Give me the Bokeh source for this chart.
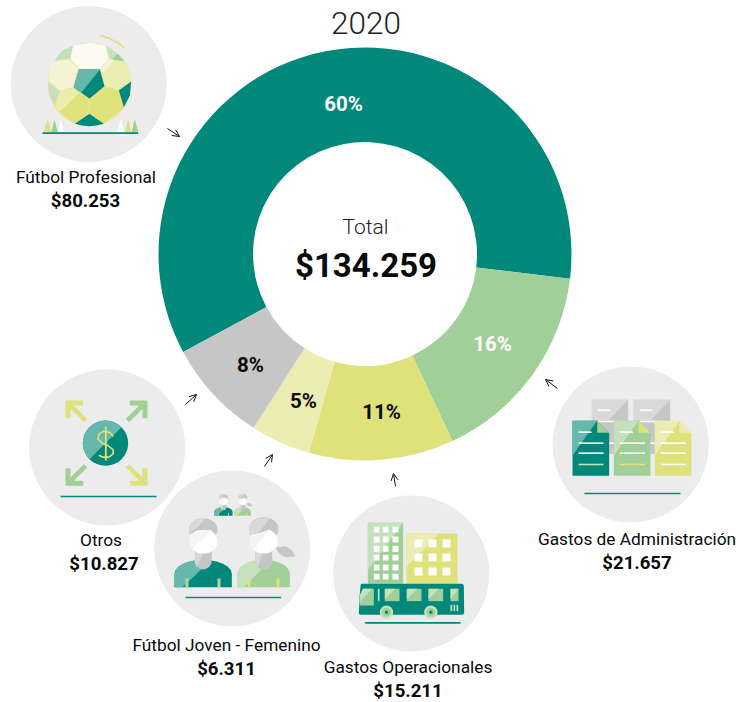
from math import pi, cos, sin
from bokeh.plotting import figure
from bokeh.models import Range1d, Arrow, OpenHead
from bokeh.core.properties import value
from bokeh.embed import file_html
from bokeh.resources import INLINE

# ---------- data ----------
title = "2020"
total_name = "Total"
total_label = "$134.259"
categories = ["Fútbol Profesional", "Gastos de Administración", "Gastos Operacionales",
              "Fútbol Joven - Femenino", "Otros"]
values = [80253, 21657, 15211, 6311, 10827]
amount_labels = ["$80.253", "$21.657", "$15.211", "$6.311", "$10.827"]
pct_labels = ["60%", "16%", "11%", "5%", "8%"]

TEAL, GREEN, YELLOW, PALE, GRAY = "#00897b", "#a0cf98", "#dfe27a", "#ebedb3", "#c6c6c6"
LTEAL, LGREEN, LGRAY, DISC = "#66b8ac", "#c5e0bd", "#d9d9d9", "#ececec"
slice_colors = [TEAL, GREEN, YELLOW, PALE, GRAY]
pct_colors = ["white", "white", "#0a0a0a", "#0a0a0a", "#0a0a0a"]

W, H = 736, 702
p = figure(width=W, height=H, output_backend="svg", toolbar_location=None,
           x_range=Range1d(0, W), y_range=Range1d(0, H), min_border=0,
           border_fill_color="white", background_fill_color="white")
p.axis.visible = False
p.grid.visible = False
p.outline_line_color = None

def T(ox, oy, s=1/3):
    return (ox, oy, s)
def px(t, x, y):
    return t[0] + x * t[2], H - (t[1] + y * t[2])
def poly(t, pts, color):
    c = [px(t, *q) for q in pts]
    p.patch([a for a, _ in c], [b for _, b in c], fill_color=color, line_color=None)
def rect(t, x0, y0, x1, y1, color):
    poly(t, [(x0, y0), (x1, y0), (x1, y1), (x0, y1)], color)
def line(t, pts, color, w=1.5):
    c = [px(t, *q) for q in pts]
    p.line([a for a, _ in c], [b for _, b in c], line_color=color, line_width=w)
def ell(t, x, y, rx, ry, color):
    a, b = px(t, x, y)
    p.ellipse([a], [b], width=2 * rx * t[2], height=2 * ry * t[2], fill_color=color, line_color=None)

# ---------- discs ----------
for x, y in [(88.5, 83.5), (107, 447), (232, 548), (411, 573), (630.5, 444)]:
    p.ellipse([x - 0.3], [H - y], width=156, height=156, fill_color=DISC, line_color=None)

# ---------- donut ----------
CX, CY, R_OUT, R_IN = 364.5, H - 253.5, 206.5, 112
START = 208.3 * pi / 180
tot = sum(values)
a = START
starts, ends = [], []
for v in values:
    b = a - v / tot * 2 * pi
    starts.append(a); ends.append(b)
    a = b
p.annular_wedge([CX] * 5, [CY] * 5, R_IN, R_OUT, starts, ends, direction="clock",
                fill_color=slice_colors, line_color=None)
pct_xy = [(343, 103.5), (492, 343.5), (381, 411.5), (303, 400.5), (250, 364.5)]
for (x, y), lab, col in zip(pct_xy, pct_labels, pct_colors):
    p.text([x], [H - y], text=[lab], text_color=col, text_font=value("Roboto"), text_font_style="bold",
           text_font_size="20.5px", text_align="center", text_baseline="middle")

def label(x, y, s, size, bold=False, font="Roboto", color="#0a0a0a"):
    p.text([x], [H - y], text=[s], text_color=color, text_font=value(font),
           text_font_style="bold" if bold else "normal",
           text_font_size=f"{size}px", text_align="center", text_baseline="middle")

label(365.5, 22, title, 31.5, font="Roboto Light", color="#222222")
label(365, 226, total_name, 21, font="Roboto Light", color="#222222")
label(365.5, 265, total_label, 33, bold=True)

name_xy = [(85.5, 176), (636.5, 538), (407.5, 666), (226, 644), (100.5, 539)]
amt_xy = [(85, 200), (636.5, 562), (407.5, 690), (226, 668), (103.5, 563)]
for (x, y), s in zip(name_xy, categories):
    label(x, y, s, 17.3)
for (x, y), s in zip(amt_xy, amount_labels):
    label(x, y, s, 18.6, bold=True)

# ---------- pointer arrows ----------
for (x0, y0, x1, y1) in [(167, 128, 179, 136), (185, 404, 196, 394), (264, 466, 272, 454),
                         (395, 486, 393, 473), (557, 388, 545, 379)]:
    p.add_layout(Arrow(end=OpenHead(size=7, line_width=1, line_color="#111111"),
                       x_start=x0, y_start=H - y0, x_end=x1, y_end=H - y1,
                       line_width=1, line_color="#111111"))

# ---------- ball icon ----------
t = T(40, 35)
ell(t, 147, 147, 126, 126, "#f2e3c8")
ell(t, 147, 147, 125, 125, "#e8e9a0")
poly(t, [(97, 30), (150, 22), (195, 30), (205, 68), (178, 100), (115, 100), (90, 68)], "#fbfbf0")
poly(t, [(97, 31), (90, 68), (42, 75), (65, 45)], LGREEN)
poly(t, [(42, 77), (90, 72), (112, 100), (97, 155), (58, 165), (24, 135), (28, 100)], "#f4f4d4")
poly(t, [(205, 72), (250, 75), (272, 125), (270, 135), (232, 160), (193, 152), (180, 103)], "#ebedb0")
poly(t, [(205, 72), (180, 100), (188, 115), (222, 72)], "#f4f4d4")
poly(t, [(115, 102), (178, 102), (192, 152), (147, 190), (100, 155)], TEAL)
poly(t, [(115, 102), (178, 102), (122, 172), (100, 155)], LTEAL)
poly(t, [(198, 30), (225, 50), (252, 77), (207, 70)], LGREEN)
poly(t, [(215, 72), (232, 55), (252, 77)], GREEN)
poly(t, [(22, 140), (58, 167), (42, 210), (28, 180)], LGREEN)
poly(t, [(58, 167), (97, 157), (145, 190), (145, 232), (103, 265), (70, 240), (42, 212)], YELLOW)
poly(t, [(58, 167), (97, 157), (117, 172), (60, 228), (42, 212)], "#ebedac")
poly(t, [(147, 190), (192, 155), (233, 165), (250, 215), (190, 265), (147, 232)], YELLOW)
poly(t, [(235, 165), (272, 138), (268, 180), (250, 215)], TEAL)
poly(t, [(103, 265), (147, 235), (190, 265), (168, 270), (147, 272), (125, 270)], TEAL)
line(t, [(180, 0), (205, 8), (230, 20), (252, 37)], YELLOW, 1.6)
for pts, c in [([(10, 290), (22, 250), (33, 290)], YELLOW),
               ([(32, 290), (42, 252), (52, 290)], GREEN),
               ([(52, 290), (61, 252), (72, 290)], "white"),
               ([(230, 290), (241, 252), (252, 290)], "white"),
               ([(252, 290), (263, 252), (273, 290)], YELLOW),
               ([(273, 290), (283, 250), (293, 290)], GREEN)]:
    poly(t, pts, c)
line(t, [(6, 293), (293, 293)], TEAL, 1.6)

# ---------- otros icon ----------
t = T(20, 360)
def corner(mx, my, c):
    f = lambda x, y: (x if mx == 0 else mx - x, y if my == 0 else my - y)
    poly(t, [f(135, 120), f(188, 120), f(188, 135), f(160, 135), f(200, 175), f(190, 185),
             f(150, 145), f(150, 173), f(135, 173)], c)
corner(0, 0, YELLOW)
corner(516, 0, GREEN)
corner(0, 496, GREEN)
corner(516, 496, YELLOW)
ell(t, 255, 248, 68, 68, TEAL)
cx, cy = px(t, 255, 248)
p.wedge([cx], [cy], 68 / 3, [pi / 4], [pi / 4 + pi], fill_color=LTEAL, line_color=None)
line(t, [(278, 228), (268, 216), (250, 212), (236, 220), (232, 235), (245, 248), (262, 255),
         (278, 268), (278, 280), (265, 290), (248, 290), (235, 284)], YELLOW, 1.6)
line(t, [(256, 198), (256, 300)], YELLOW, 1.8)
line(t, [(120, 408), (408, 408)], TEAL, 1.6)

# ---------- joven icon ----------
def dome(x0, x1):
    c, r = (x0 + x1) / 2, (x1 - x0) / 2
    return [(x0, 230)] + [(c + r * cos(pi - k * pi / 12), 190 - 42 * sin(k * pi / 12)) for k in range(13)] + [(x1, 230)]

def man(t):
    poly(t, dome(12, 184), TEAL)
    poly(t, [q for q in dome(12, 184) if q[0] < 95 and q[1] < 231 ] + [(95, 175), (35, 230)], LTEAL)
    ell(t, 98, 150, 26, 27, GRAY)
    rect(t, 73, 115, 124, 150, GRAY)
    poly(t, [(73, 115), (105, 115), (78, 170), (73, 150)], LGRAY)
    ell(t, 98, 58, 43, 35, GRAY)
    poly(t, [(55, 58), (62, 38), (85, 25), (105, 25), (60, 72)], LGRAY)
    ell(t, 99, 92, 42, 37, "white")
    poly(t, [(57, 92), (60, 70), (100, 62), (135, 50), (62, 118)], "#f4f4f4")
    poly(t, [(55, 70), (70, 58), (110, 52), (132, 50), (141, 68), (120, 58), (80, 60)], GRAY)
    rect(t, 45, 204, 54, 230, "#b5d59a")
    rect(t, 141, 204, 150, 230, "#b5d59a")

def woman(t):
    poly(t, dome(201, 358), GREEN)
    poly(t, [q for q in dome(201, 358) if q[0] < 275] + [(275, 175), (220, 230)], LGREEN)
    poly(t, [(315, 112), (345, 107), (365, 120), (375, 138), (345, 140), (325, 128)], GRAY)
    ell(t, 280, 150, 26, 28, GRAY)
    rect(t, 254, 115, 305, 150, GRAY)
    poly(t, [(254, 150), (254, 115), (280, 115), (262, 170)], LGRAY)
    ell(t, 280, 55, 44, 35, GRAY)
    poly(t, [(236, 58), (240, 40), (262, 24), (300, 22), (262, 68), (238, 72)], LGRAY)
    ell(t, 280, 92, 42, 37, "white")
    poly(t, [(238, 92), (240, 76), (270, 65), (295, 62), (245, 120)], "#f4f4f4")
    poly(t, [(238, 74), (265, 68), (296, 58), (322, 70), (322, 50), (280, 45), (238, 50)], LGRAY)
    poly(t, [(262, 68), (300, 24), (318, 42), (323, 70), (296, 58)], GRAY)
    rect(t, 231, 204, 240, 230, YELLOW)
    rect(t, 318, 204, 327, 230, YELLOW)

big = T(170, 510)
man(big); woman(big)
small = T(212.7, 491.2, 0.105)
man(small); woman(small)
t = T(20, 360)
line(t, [(495, 711), (782, 711)], TEAL, 1.6)

# ---------- operations icon ----------
t = T(330, 370)
rect(t, 112, 457, 218, 640, GREEN)
poly(t, [(112, 457), (218, 457), (112, 600)], LGREEN)
for x0, x1 in [(130, 147), (157, 174), (186, 204)]:
    for y0, y1 in [(468, 486), (498, 516), (526, 544), (553, 570), (582, 600), (610, 627)]:
        rect(t, x0, y0, x1, y1, "white")
rect(t, 228, 489, 381, 642, YELLOW)
poly(t, [(228, 489), (325, 489), (228, 590)], PALE)
for x0, x1 in [(252, 276), (294, 318), (336, 360)]:
    for y0, y1 in [(507, 531), (549, 573), (591, 615)]:
        rect(t, x0, y0, x1, y1, "white")
poly(t, [(92, 640), (396, 640), (400, 645), (401, 730), (396, 733), (90, 733), (85, 730), (87, 680), (90, 645)], TEAL)
poly(t, [(97, 655), (130, 655), (130, 705), (87, 705), (88, 675)], GREEN)
poly(t, [(97, 655), (125, 655), (87, 695), (88, 675)], LGREEN)
for x0, x1 in [(163, 207), (229, 273), (294, 338), (360, 384)]:
    rect(t, x0, 655, x1, 692, GREEN)
    poly(t, [(x0, 655), (min(x1, x0 + 32), 655), (x0, 686)], LGREEN)
rect(t, 142, 655, 147, 692, LGREEN)
for x0 in [360, 369, 378]:
    rect(t, x0, 703, x0 + 5, 722, LGREEN)
for wx in [168, 301]:
    ell(t, wx, 725, 20, 20, LGREEN)
    ell(t, wx, 725, 13, 13, GREEN)
    ell(t, wx, 725, 5, 5, TEAL)
line(t, [(104, 757), (390, 757)], TEAL, 1.6)

# ---------- admin icon ----------
for x0 in [784, 910]:
    rect(t, x0, 88, x0 + 109, 250, GRAY)
    poly(t, [(x0, 88), (x0 + 109, 88), (x0 + 50, 150), (x0, 150)], LGRAY)
    line(t, [(x0 + 18, 119), (x0 + 56, 119)], "white", 1.6)
    line(t, [(x0 + 18, 153), (x0 + 92, 153)], "white", 1.6)
    line(t, [(x0 + 18, 218), (x0 + 92, 218)], "white", 1.6)
for x0, dark, light, fold, last in [(726, TEAL, LTEAL, GREEN, LGREEN),
                                    (850, GREEN, LGREEN, YELLOW, YELLOW),
                                    (973, YELLOW, PALE, PALE, "white")]:
    poly(t, [(x0, 151), (x0 + 74, 151), (x0 + 110, 187), (x0 + 110, 316), (x0, 316)], dark)
    poly(t, [(x0, 151), (x0 + 74, 151), (x0, 255)], light)
    poly(t, [(x0 + 74, 151), (x0 + 110, 187), (x0 + 74, 187)], fold)
    line(t, [(x0 + 18, 185), (x0 + 57, 185)], "white", 1.6)
    line(t, [(x0 + 18, 218), (x0 + 93, 218)], "white", 1.6)
    line(t, [(x0 + 18, 248), (x0 + 93, 248)], "white", 1.6)
    line(t, [(x0 + 18, 282), (x0 + 93, 282)], last, 1.6)
line(t, [(762, 369), (1050, 369)], TEAL, 1.6)

open("out.html", "w").write(file_html(p, INLINE))
